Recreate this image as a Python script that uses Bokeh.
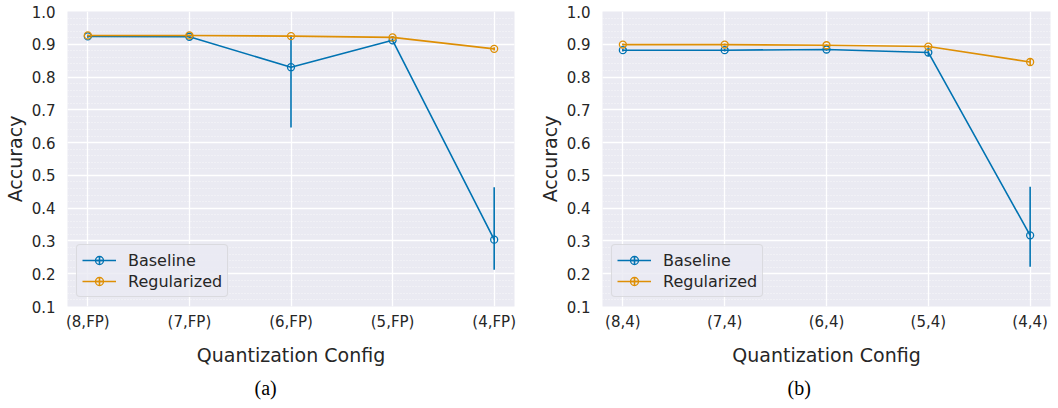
from bokeh.plotting import figure
from bokeh.layouts import row
from bokeh.models import (Range1d, SingleIntervalTicker, FixedTicker, PrintfTickFormatter,
                          ColumnDataSource, Legend, LegendItem, Title)
from bokeh.embed import file_html
from bokeh.resources import INLINE

# ---------------- data ----------------
categories_a = ["(8,FP)", "(7,FP)", "(6,FP)", "(5,FP)", "(4,FP)"]
baseline_a = [0.924, 0.923, 0.830, 0.912, 0.304]
baseline_a_lo = [0.920, 0.919, 0.646, 0.906, 0.212]
baseline_a_hi = [0.928, 0.927, 0.924, 0.918, 0.464]
regularized_a = [0.927, 0.927, 0.925, 0.921, 0.886]
regularized_a_lo = [0.924, 0.924, 0.922, 0.917, 0.881]
regularized_a_hi = [0.930, 0.930, 0.928, 0.925, 0.891]

categories_b = ["(8,4)", "(7,4)", "(6,4)", "(5,4)", "(4,4)"]
baseline_b = [0.882, 0.882, 0.884, 0.875, 0.317]
baseline_b_lo = [0.878, 0.878, 0.880, 0.863, 0.221]
baseline_b_hi = [0.886, 0.886, 0.888, 0.887, 0.465]
regularized_b = [0.899, 0.899, 0.897, 0.893, 0.846]
regularized_b_lo = [0.896, 0.896, 0.894, 0.889, 0.835]
regularized_b_hi = [0.902, 0.902, 0.900, 0.897, 0.857]

colors = ["#0173B2", "#DE8F05"]
TXT = "#262626"
FONT = "DejaVu Sans"
FIG_H = 404


def panel(cats, series, width, left, right, caption, cap_offset):
    p = figure(width=width, height=FIG_H, x_range=Range1d(-0.2, 4.2), y_range=Range1d(0.1, 1.0),
               output_backend="svg", toolbar_location=None,
               min_border_left=left, min_border_right=right, min_border_top=11, min_border_bottom=0,
               background_fill_color="#EAEAF2", border_fill_color="white", outline_line_color=None)
    xs = list(range(len(cats)))
    items = []
    for (name, vals, lo, hi), color in zip(series, colors):
        src = ColumnDataSource(dict(x=xs, y=vals, lo=lo, hi=hi))
        p.segment(x0="x", y0="lo", x1="x", y1="hi", source=src, line_color=color, line_width=1.6)
        ln = p.line("x", "y", source=src, line_color=color, line_width=1.6)
        sc = p.scatter("x", "y", source=src, marker="circle", size=7, line_color=color,
                       line_width=1.3, fill_alpha=0)
        # zero-size cross: invisible on the plot, shows the error-bar tick in the legend
        eb = p.scatter("x", "y", source=src, marker="cross", size=0, line_color=color,
                       line_width=1.6)
        items.append(LegendItem(label=name, renderers=[ln, sc, eb]))

    # axes
    p.xaxis.ticker = FixedTicker(ticks=xs)
    p.xaxis.major_label_overrides = {i: c for i, c in enumerate(cats)}
    p.yaxis.ticker = SingleIntervalTicker(interval=0.1, num_minor_ticks=5)
    p.yaxis.formatter = PrintfTickFormatter(format="%.1f")
    for ax in (p.xaxis[0], p.yaxis[0]):
        ax.axis_line_color = None
        ax.major_tick_line_color = None
        ax.minor_tick_line_color = None
        ax.major_label_text_font = FONT
        ax.major_label_text_font_size = "15px"
        ax.major_label_text_color = TXT
        ax.axis_label_text_font = FONT
        ax.axis_label_text_font_size = "19px"
        ax.axis_label_text_font_style = "normal"
        ax.axis_label_text_color = TXT
    p.xaxis.major_label_standoff = 0
    p.yaxis.major_label_standoff = 6
    p.xaxis.axis_label = "Quantization Config"
    p.xaxis.axis_label_standoff = 10
    p.yaxis.axis_label = "Accuracy"
    p.yaxis.axis_label_standoff = 3

    # grids
    p.xgrid.grid_line_color = "white"
    p.xgrid.grid_line_width = 1.3
    p.ygrid.grid_line_color = "white"
    p.ygrid.grid_line_width = 1.3
    p.ygrid.minor_grid_line_color = "white"
    p.ygrid.minor_grid_line_width = 0.7
    p.ygrid.minor_grid_line_dash = "1 2"

    legend = Legend(items=items, location="bottom_left", margin=9, padding=5, spacing=1,
                    glyph_width=34, glyph_height=20, label_standoff=12,
                    label_text_font=FONT, label_text_font_size="16px", label_text_color=TXT,
                    background_fill_color="#EAEAF2", background_fill_alpha=0.8,
                    border_line_color="#CCCCCC", border_line_width=1, border_radius=4)
    p.add_layout(legend)

    p.add_layout(Title(text=caption, align="left", offset=cap_offset, standoff=12,
                       text_font="Liberation Serif", text_font_size="20px",
                       text_font_style="normal", text_color="black"), "below")
    return p


p1 = panel(categories_a,
           [("Baseline", baseline_a, baseline_a_lo, baseline_a_hi),
            ("Regularized", regularized_a, regularized_a_lo, regularized_a_hi)],
           530, 60, 16, "(a)", 187)
p2 = panel(categories_b,
           [("Baseline", baseline_b, baseline_b_lo, baseline_b_hi),
            ("Regularized", regularized_b, regularized_b_lo, regularized_b_hi)],
           522, 72, 2, "(b)", 185)

layout = row(p1, p2)
open("out.html", "w").write(file_html(layout, INLINE))
